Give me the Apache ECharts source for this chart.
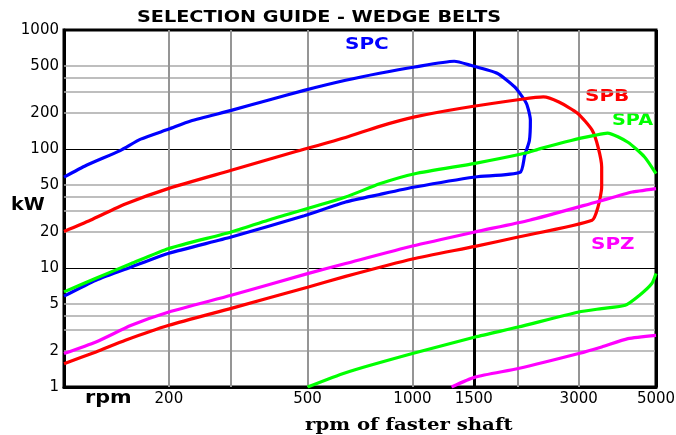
<!DOCTYPE html>
<html><head><meta charset="utf-8">
<script src="https://cdn.jsdelivr.net/npm/echarts@6/dist/echarts.min.js"></script>
<style>html,body{margin:0;padding:0;background:#fff}#c{width:676px;height:435px}</style>
</head><body><div id="c"></div>
<script>
// [rpm, kW] points, in drawing order
const spc = [[100,58],[116,73],[145,97],[166,121],[200,147],[231,172],[302,211],[385,257],[489,311],[643,378],[805,433],[1016,489],[1318,546],[1469,505],[1750,433],[1965,332],[2123,242],[2180,174],[2166,118],[2100,88.5],[2037,63.7],[1513,58.2],[1016,47.9],[805,41.5],[643,35.9],[489,27.5],[302,18.2],[200,13.3],[156,10.2],[123.5,7.9],[100,5.8]];
const spb = [[100,20.3],[119,25.2],[150,34.5],[200,46.7],[302,66.2],[455,93.8],[643,125],[805,155],[1016,186],[1380,220],[2058,262],[2376,274],[2632,248],[2977,200],[3278,144],[3409,104],[3492,70.6],[3492,48],[3409,32.6],[3278,25.2],[2012,18.2],[1513,15.2],[1000,11.9],[643,8.5],[500,6.9],[302,4.58],[200,3.3],[150,2.47],[123.5,1.97],[100,1.57]];
const spaUpper = [[100,6.3],[123.5,8.2],[156,10.9],[200,14.6],[302,20.1],[385,25.2],[643,39.5],[805,51],[1016,62],[1513,75.8],[2100,92],[2328,100.8],[2856,118],[3331,130],[3630,136],[4153,114],[4636,85.7],[5000,62]];
const spaLower = [[500,1],[643,1.32],[1000,1.91],[1513,2.63],[2012,3.19],[3000,4.27],[3492,4.56],[4080,4.86],[4485,5.9],[4864,7.4],[5000,9]];
const spzUpper = [[100,1.91],[123.5,2.39],[156,3.3],[200,4.27],[302,5.9],[500,8.97],[643,10.9],[1000,15.3],[1513,20.1],[2166,25.2],[3377,35.9],[4277,43.5],[5000,46.5]];
const spzLower = [[1295,1],[1513,1.21],[2012,1.43],[3000,1.91],[3492,2.17],[4153,2.55],[5000,2.72]];

// axis grid / tick values
const yMajorGrid = [10, 100];
const yMinorGrid = [2, 3, 4, 5, 20, 30, 40, 50, 200, 300, 400, 500];
const yExtraLabels = [2, 5, 20, 50, 200, 500];
const xGrid = [200, 300, 500, 1000, 2000, 3000];
const xLabels = [200, 500, 1000, 1500, 3000, 5000];
const xThick = 1500;

const labelFont = {color:'#000', fontSize:15, fontFamily:'DejaVu Sans'};

const mlData = [];
yMajorGrid.forEach(v => mlData.push({yAxis:v, name:String(v), lineStyle:{color:'#000', width:1, type:'solid'},
  label:Object.assign({show:yExtraLabels.includes(v), position:'start', formatter:'{b}', distance:5}, labelFont)}));
yMinorGrid.forEach(v => mlData.push({yAxis:v, name:String(v), lineStyle:{color:'#a8a8a8', width:1.5, type:'solid'},
  label:Object.assign({show:yExtraLabels.includes(v), position:'start', formatter:'{b}', distance:5}, labelFont)}));
xGrid.forEach(v => mlData.push({xAxis:v, name:String(v), lineStyle:{color:'#959595', width:2, type:'solid'},
  label:Object.assign({show:xLabels.includes(v), position:'start', formatter:'{b}', distance:5}, labelFont)}));
mlData.push({xAxis:xThick, name:String(xThick), lineStyle:{color:'#000', width:3, type:'solid'},
  label:Object.assign({show:true, position:'start', formatter:'{b}', distance:5}, labelFont)});
mlData.push({xAxis:5000, name:'5000', lineStyle:{color:'#000', width:3, type:'solid'},
  label:Object.assign({show:true, position:'start', formatter:'{b}', distance:5}, labelFont)});

function curve(name, data, color, withGrid) {
  const s = {type:'line', name:name, data:data, showSymbol:false, symbol:'none', smooth:0.2, z:3,
    lineStyle:{color:color, width:3.2}, itemStyle:{color:color}, silent:true};
  if (withGrid) {
    s.markLine = {silent:true, z:1, symbol:['none','none'], animation:false, data:mlData};
  }
  return s;
}

function txt(text, left, top, color, font, sx) {
  return {type:'text', left:left, top:top, scaleX:sx || 1, style:{text:text, fill:color, font:font}};
}

const chart = echarts.init(document.getElementById('c'), null, {renderer:'canvas'});
chart.setOption({
  animation:false,
  backgroundColor:'#fff',
  grid:{show:true, left:64, top:30, right:20, bottom:48, borderColor:'#000', borderWidth:3},
  xAxis:{type:'log', logBase:10, min:100, max:5000,
    axisLine:{show:true, lineStyle:{color:'#000', width:3}}, axisTick:{show:false},
    axisLabel:{show:false}, splitLine:{show:false}, minorSplitLine:{show:false}},
  yAxis:{type:'log', logBase:10, min:1, max:1000,
    axisLine:{show:true, lineStyle:{color:'#000', width:3}}, axisTick:{show:false},
    axisLabel:Object.assign({formatter:v => String(v), margin:5}, labelFont),
    splitLine:{show:false}},
  graphic:[
    txt('SELECTION GUIDE - WEDGE BELTS', 137, 10, '#000', 'bold 16px "DejaVu Sans"', 1.2),
    txt('kW', 11, 197, '#000', 'bold 17px "DejaVu Sans"', 1.12),
    txt('rpm', 85, 390, '#000', 'bold 17px "DejaVu Sans"', 1.22),
    txt('rpm of faster shaft', 305, 417, '#000', 'bold 17px "DejaVu Serif"', 1.16),
    txt('SPC', 345, 37, '#0000ff', 'bold 16px "DejaVu Sans"', 1.25),
    txt('SPB', 585, 89, '#ff0000', 'bold 16px "DejaVu Sans"', 1.25),
    txt('SPA', 612, 113, '#00ff00', 'bold 16px "DejaVu Sans"', 1.2),
    txt('SPZ', 591, 237, '#ff00ff', 'bold 16px "DejaVu Sans"', 1.25)
  ],
  series:[
    curve('SPC', spc, '#0000ff', true),
    curve('SPB', spb, '#ff0000'),
    curve('SPA', spaUpper, '#00ff00'),
    curve('SPA lower', spaLower, '#00ff00'),
    curve('SPZ', spzUpper, '#ff00ff'),
    curve('SPZ lower', spzLower, '#ff00ff')
  ]
});
</script>
</body></html>
